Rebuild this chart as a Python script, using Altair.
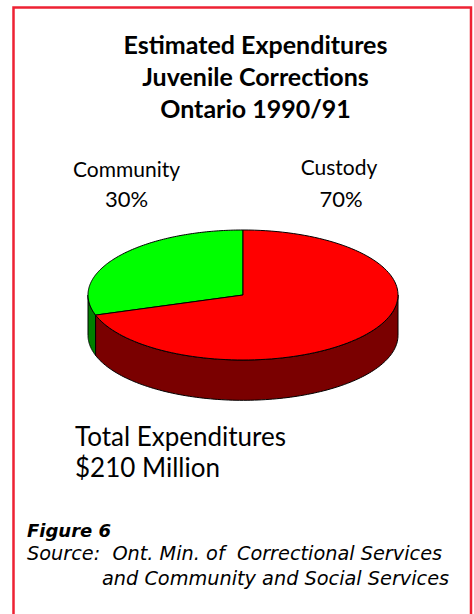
import altair as alt
import numpy as np
import pandas as pd

# ---- data ----
labels = ["Community", "Custody"]
shares = [30, 70]
pct_labels = ["30%", "70%"]
top_colors = ["#00ff00", "#ff0000"]
side_colors = ["#008000", "#7a0000"]
title_lines = ["Estimated Expenditures", "Juvenile Corrections", "Ontario 1990/91"]
total_lines = ["Total Expenditures", "$210 Million"]
fig_label = "Figure 6"
source_lines = ["Source:\u00a0\u00a0Ont. Min. of\u00a0\u00a0Correctional Services",
                "and Community and Social Services"]

# ---- geometry derived from shares (unit ellipse, flattened by the y scale) ----
THICK = 0.62          # pie thickness in y-units
START = 90.0          # first slice starts at 12 o'clock, goes counter-clockwise
top_rows, side_rows = [], []
a0 = START
for lab, s in zip(labels, shares):
    a1 = a0 + 360.0 * s / 100.0
    angs = np.linspace(a0, a1, 120)
    idx = 0
    top_rows.append({"slice": lab, "idx": idx, "x": 0.0, "y": 0.0}); idx += 1
    for a in angs:
        r = np.radians(a)
        top_rows.append({"slice": lab, "idx": idx, "x": float(np.cos(r)), "y": float(np.sin(r))}); idx += 1
    top_rows.append({"slice": lab, "idx": idx, "x": 0.0, "y": 0.0})
    # visible front side: angles in [180, 360] (mod 360)
    for base in (0.0, 360.0):
        lo, hi = max(a0, 180.0 + base), min(a1, 360.0 + base)
        if hi > lo:
            for a in np.linspace(lo, hi, 120):
                r = np.radians(a)
                side_rows.append({"slice": lab, "x": float(np.cos(r)),
                                  "y": float(np.sin(r)), "y2": float(np.sin(r)) - THICK})
    a0 = a1

top_df = pd.DataFrame(top_rows)
side_df = pd.DataFrame(side_rows)

xs = alt.Scale(domain=[-1, 1], range=[88, 398], zero=False, nice=False)
ys = alt.Scale(domain=[-1, 1], range=[360, 230], zero=False, nice=False)

side = alt.Chart(side_df).mark_area(stroke="black", strokeWidth=1).encode(
    x=alt.X("x:Q", scale=xs, axis=None),
    y=alt.Y("y:Q", scale=ys, axis=None),
    y2="y2:Q",
    fill=alt.Fill("slice:N", scale=alt.Scale(domain=labels, range=side_colors), legend=None),
    detail="slice:N",
)

top = alt.Chart(top_df).mark_line(stroke="black", strokeWidth=1).encode(
    x=alt.X("x:Q", scale=xs, axis=None),
    y=alt.Y("y:Q", scale=ys, axis=None),
    fill=alt.Fill("slice:N", scale=alt.Scale(domain=labels, range=top_colors), legend=None),
    detail="slice:N",
    order="idx:Q",
)


def txt(s, x, y, size, font, weight="normal", style="normal", align="left"):
    return alt.Chart(pd.DataFrame({"t": [s]})).mark_text(
        align=align, baseline="alphabetic", fontSize=size, font=font,
        fontWeight=weight, fontStyle=style, color="black"
    ).encode(x=alt.value(x), y=alt.value(y), text="t:N")


border = alt.Chart(pd.DataFrame({"a": [0]})).mark_rect(
    fillOpacity=0, stroke="#ee2233", strokeWidth=2.5
).encode(x=alt.value(13.5), x2=alt.value(471), y=alt.value(7.5), y2=alt.value(700))

layers = [border, side, top]
for i, line in enumerate(title_lines):
    layers.append(txt(line, 255.5, 54 + 32 * i, 25, "Lato", weight="bold", align="center"))
layers.append(txt(labels[0], 126.5, 177, 21, "Lato", align="center"))
layers.append(txt(pct_labels[0], 126.5, 207, 22, "Lato", align="center"))
layers.append(txt(labels[1], 339, 175, 21, "Lato", align="center"))
layers.append(txt(pct_labels[1], 341, 207, 22, "Lato", align="center"))
layers.append(txt(total_lines[0], 75, 446, 26, "Lato"))
layers.append(txt(total_lines[1], 75, 477, 26, "Lato"))
layers.append(txt(fig_label, 27, 537, 18, "DejaVu Sans", weight="bold", style="italic"))
layers.append(txt(source_lines[0], 27, 560, 19.3, "DejaVu Sans", style="italic"))
layers.append(txt(source_lines[1], 102, 585, 19.3, "DejaVu Sans", style="italic"))

chart = alt.layer(*layers).resolve_scale(fill="independent").properties(
    width=474, height=614, padding=0, autosize=alt.AutoSizeParams(type="none"),
    background="white"
).configure_view(stroke=None)

chart.save("out.html", embed_options={"renderer": "svg", "actions": False})
